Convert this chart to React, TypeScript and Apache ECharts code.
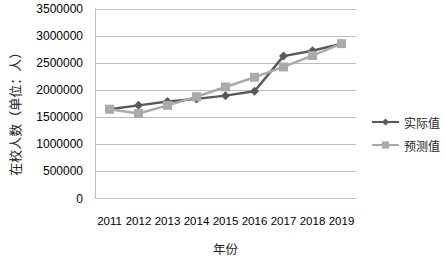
import React, { useEffect, useRef } from "react";
import * as echarts from "echarts";

const years = ["2011", "2012", "2013", "2014", "2015", "2016", "2017", "2018", "2019"];
const actual = [1650000, 1720000, 1790000, 1840000, 1900000, 1980000, 2630000, 2730000, 2860000];
const predicted = [1650000, 1570000, 1720000, 1880000, 2060000, 2240000, 2430000, 2640000, 2860000];
const seriesNames = ["实际值", "预测值"];
const yAxisTitle = "在校人数（单位：人）";
const xAxisTitle = "年份";

export default function App() {
  const ref = useRef<HTMLDivElement>(null);
  useEffect(() => {
    if (!ref.current) return;
    const chart = echarts.init(ref.current, undefined, { renderer: "svg" });
    const cjk = "'Noto Sans CJK SC', sans-serif";
    const num = "'Liberation Sans', 'DejaVu Sans', sans-serif";
    chart.setOption({
      animation: false,
      backgroundColor: "#ffffff",
      grid: { left: 88, right: 89, top: 9, bottom: 57, containLabel: false },
      legend: {
        orient: "vertical",
        left: 371,
        top: 116,
        padding: 0,
        itemWidth: 27,
        itemHeight: 9,
        itemGap: 11,
        textStyle: { fontFamily: cjk, fontSize: 12, color: "#222" },
        data: seriesNames,
      },
      xAxis: {
        type: "category",
        data: years,
        boundaryGap: true,
        name: xAxisTitle,
        nameLocation: "middle",
        nameGap: 44,
        nameTextStyle: { fontFamily: cjk, fontSize: 12.5, color: "#222" },
        axisLine: { show: true, lineStyle: { color: "#bfbfbf", width: 1 } },
        axisTick: { show: false },
        axisLabel: { fontFamily: num, fontSize: 11.5, color: "#000", margin: 16, interval: 0, hideOverlap: false },
      },
      yAxis: {
        type: "value",
        min: 0,
        max: 3500000,
        interval: 500000,
        name: yAxisTitle,
        nameLocation: "middle",
        nameGap: 74,
        nameRotate: 90,
        nameTextStyle: { fontFamily: cjk, fontSize: 13, color: "#222", padding: [0, 14, 0, 0] },
        axisLine: { show: true, lineStyle: { color: "#bfbfbf", width: 1 } },
        axisTick: { show: false },
        axisLabel: { fontFamily: num, fontSize: 12, color: "#000", margin: 12, formatter: (v: number) => String(v) },
        splitLine: { show: true, lineStyle: { color: "#bfbfbf", width: 1 } },
      },
      series: [
        {
          name: seriesNames[0],
          type: "line",
          data: actual,
          symbol: "diamond",
          symbolSize: 9,
          itemStyle: { color: "#595959" },
          lineStyle: { color: "#595959", width: 2.5 },
          z: 2,
        },
        {
          name: seriesNames[1],
          type: "line",
          data: predicted,
          symbol: "rect",
          symbolSize: 9,
          itemStyle: { color: "#aaaaaa" },
          lineStyle: { color: "#aaaaaa", width: 2.5 },
          z: 3,
        },
      ],
    });
    return () => chart.dispose();
  }, []);
  return <div ref={ref} style={{ width: 445, height: 260, position: "absolute", left: 0, top: 0 }} />;
}
